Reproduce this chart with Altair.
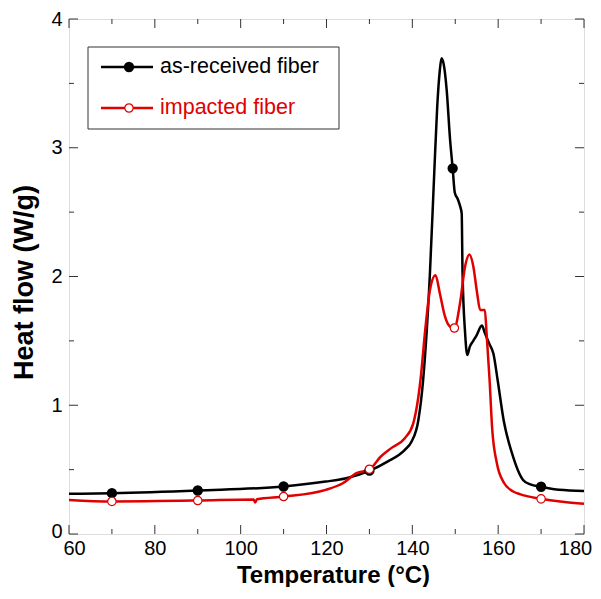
import altair as alt
import pandas as pd

series_names = ["as-received fiber", "impacted fiber"]
series_colors = ["#000000", "#e00000"]

recv_t = [60, 70, 90, 110, 119.8, 124.6, 130.1, 134.2, 138.2, 139.8, 141.4, 142.5, 144.1, 145.1, 145.8,
          146.4, 146.8, 147.3, 148.0, 148.8, 149.4, 149.9, 150.6, 151.1, 151.5, 151.7, 152.3, 152.8, 153.4,
          154.2, 155.0, 156.2, 156.9, 157.9, 158.9, 159.9, 161.3, 163.2, 165.8, 167.5, 170.0, 174.2, 180]
recv_h = [0.312, 0.317, 0.338, 0.369, 0.407, 0.433, 0.492, 0.562, 0.652, 0.716, 0.884, 1.19, 2.025, 2.80, 3.32,
          3.60, 3.695, 3.65, 3.45, 3.06, 2.84, 2.65, 2.60, 2.55, 2.49, 2.03, 1.56, 1.39, 1.455,
          1.50, 1.545, 1.62, 1.56, 1.48, 1.40, 1.19, 0.88, 0.63, 0.42, 0.385, 0.367, 0.343, 0.334]

imp_t = [60, 70, 90, 103.0, 103.4, 103.8, 110.1, 119.8, 123.8, 127.0, 130.1, 132.6, 135.0, 138.2, 140.2,
         141.4, 141.9, 143.0, 144.1, 145.4, 146.4, 147.6, 148.8, 149.8, 151.1, 152.3, 153.3, 154.2, 155.1,
         155.8, 156.9, 157.3, 158.0, 158.6, 159.7, 161.3, 163.5, 165.0, 170.0, 175.0, 180]
imp_h = [0.265, 0.253, 0.260, 0.268, 0.245, 0.270, 0.291, 0.343, 0.394, 0.472, 0.503, 0.60, 0.665, 0.742, 0.858,
         1.064, 1.196, 1.584, 1.895, 2.01, 1.87, 1.69, 1.61, 1.60, 1.79, 2.08, 2.17, 2.08, 1.87,
         1.74, 1.74, 1.56, 1.196, 0.82, 0.55, 0.40, 0.33, 0.31, 0.273, 0.25, 0.235]

recv_mark_t = [70, 90, 110, 130, 149.4, 170]
recv_mark_h = [0.317, 0.338, 0.369, 0.492, 2.84, 0.367]
imp_mark_t = [70, 90, 110, 130, 149.8, 170]
imp_mark_h = [0.253, 0.260, 0.291, 0.503, 1.60, 0.273]

x_major = [60, 80, 100, 120, 140, 160, 180]
x_minor = [70, 90, 110, 130, 150, 170]
y_major = [0, 1, 2, 3, 4]
y_minor = [0.5, 1.5, 2.5, 3.5]

W = 515
H = 515
FONT = "Liberation Sans"
MAJ = 9
MIN = 5

xs = alt.Scale(domain=[60, 180], nice=False, zero=False)
ys = alt.Scale(domain=[0, 4], nice=False, zero=False)

recv_df = pd.DataFrame({"T": recv_t, "HF": recv_h})
imp_df = pd.DataFrame({"T": imp_t, "HF": imp_h})
recv_m = pd.DataFrame({"T": recv_mark_t, "HF": recv_mark_h})
imp_m = pd.DataFrame({"T": imp_mark_t, "HF": imp_mark_h})

x_axis = alt.Axis(values=x_major, format="d", title="Temperature (°C)", ticks=False, tickSize=0,
                  domain=False, grid=False, labelFont=FONT, labelFontSize=20, labelColor="black",
                  labelPadding=4, labelFlush=False, labelOverlap=False,
                  labelOffset={"condition": [{"test": "datum.value === 180", "value": -9},
                                             {"test": "datum.value === 60", "value": 5}], "value": 0},
                  titleFont=FONT, titleFontSize=24, titleFontWeight="bold", titleColor="black",
                  titleBaseline="alphabetic", titleAlign="center", titleX=264, titleY=48)
y_axis = alt.Axis(values=y_major, format="d", title="Heat flow (W/g)", ticks=False, tickSize=0,
                  domain=False, grid=False, labelFont=FONT, labelFontSize=20, labelColor="black",
                  labelPadding=7, labelFlush=False, labelOverlap=False,
                  labelOffset={"condition": {"test": "datum.value === 0", "value": -3}, "value": 0},
                  titleFont=FONT, titleFontSize=27, titleFontWeight="bold", titleColor="black",
                  titleBaseline="alphabetic", titleAlign="center", titleAngle=270, titleX=-37, titleY=263)


def X(field):
    return alt.X(field, scale=xs, axis=x_axis)


def Y(field):
    return alt.Y(field, scale=ys, axis=y_axis)


line_recv = alt.Chart(recv_df).mark_line(color=series_colors[0], strokeWidth=2.5, interpolate="monotone").encode(
    x=X("T:Q"), y=Y("HF:Q"))
line_imp = alt.Chart(imp_df).mark_line(color=series_colors[1], strokeWidth=2.5, interpolate="monotone").encode(
    x=X("T:Q"), y=Y("HF:Q"))
pts_recv = alt.Chart(recv_m).mark_point(shape="circle", filled=True, fill="black", stroke="black",
                                        size=70, opacity=1).encode(x=X("T:Q"), y=Y("HF:Q"))
pts_imp = alt.Chart(imp_m).mark_point(shape="circle", filled=True, fill="white", stroke=series_colors[1],
                                      strokeWidth=1.2, size=70, opacity=1).encode(x=X("T:Q"), y=Y("HF:Q"))

tick_layers = []
for vals, ln in [(x_major, MAJ), (x_minor, MIN)]:
    d = pd.DataFrame({"T": vals})
    tick_layers.append(alt.Chart(d).mark_rule(color="#333", strokeWidth=1).encode(
        x=X("T:Q"), y=alt.value(H), y2=alt.value(H - ln)))
    tick_layers.append(alt.Chart(d).mark_rule(color="#333", strokeWidth=1).encode(
        x=X("T:Q"), y=alt.value(0), y2=alt.value(ln)))
for vals, ln in [(y_major, MAJ), (y_minor, MIN)]:
    d = pd.DataFrame({"HF": vals})
    tick_layers.append(alt.Chart(d).mark_rule(color="#333", strokeWidth=1).encode(
        y=Y("HF:Q"), x=alt.value(0), x2=alt.value(ln)))
    tick_layers.append(alt.Chart(d).mark_rule(color="#333", strokeWidth=1).encode(
        y=Y("HF:Q"), x=alt.value(W), x2=alt.value(W - ln)))

# legend (drawn by hand, as in the original figure)
legend_box = alt.Chart(pd.DataFrame({"a": [0]})).mark_rect(fill="white", stroke="#333", strokeWidth=1).encode(
    x=alt.value(19), x2=alt.value(270), y=alt.value(28), y2=alt.value(110))
legend_layers = [legend_box]
entry_y = [48, 89]
for i, name in enumerate(series_names):
    one = pd.DataFrame({"label": [name]})
    legend_layers.append(alt.Chart(one).mark_rule(color=series_colors[i], strokeWidth=2.5).encode(
        x=alt.value(32), x2=alt.value(84), y=alt.value(entry_y[i])))
    if i == 0:
        legend_layers.append(alt.Chart(one).mark_point(shape="circle", filled=True, fill="black",
                                                       stroke="black", size=70, opacity=1).encode(
            x=alt.value(60), y=alt.value(entry_y[i])))
    else:
        legend_layers.append(alt.Chart(one).mark_point(shape="circle", filled=True, fill="white",
                                                       stroke=series_colors[1], strokeWidth=1.2, size=70,
                                                       opacity=1).encode(
            x=alt.value(60), y=alt.value(entry_y[i])))
    legend_layers.append(alt.Chart(one).mark_text(align="left", baseline="middle", font=FONT, fontSize=21.5,
                                                  color=series_colors[i]).encode(
        x=alt.value(91), y=alt.value(entry_y[i]), text="label:N"))

chart = alt.layer(line_recv, line_imp, pts_recv, pts_imp, *tick_layers, *legend_layers).properties(
    width=W, height=H,
    autosize=alt.AutoSizeParams(type="none"),
    padding={"left": 61, "top": 11, "right": 9, "bottom": 53},
).configure_view(stroke="black", strokeWidth=1.2).configure(background="white")

chart.save("out.html", embed_options={"renderer": "svg", "actions": False})
